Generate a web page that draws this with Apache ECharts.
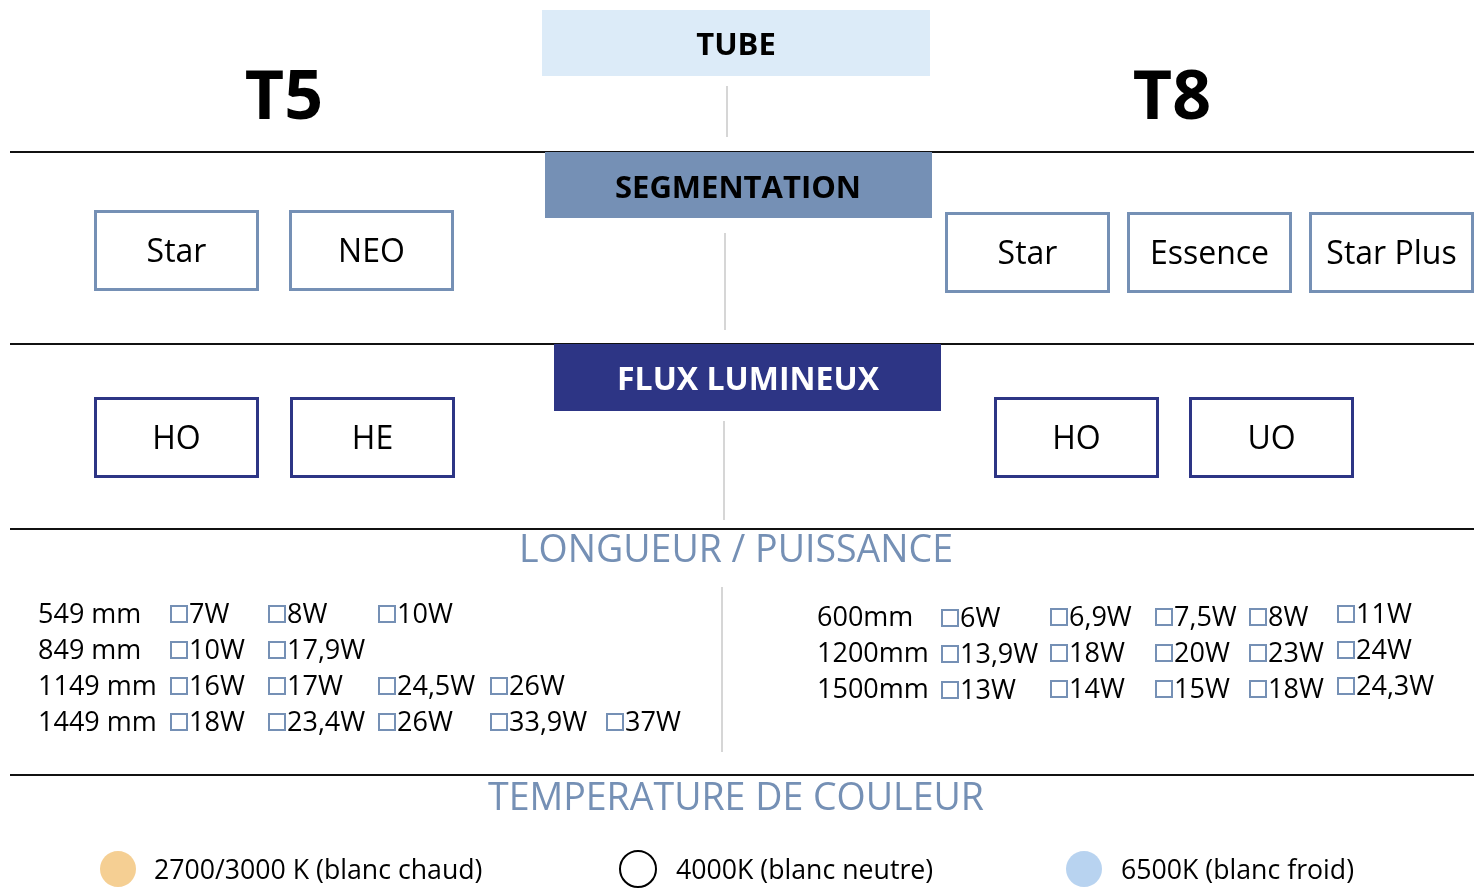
<!DOCTYPE html>
<html>
<head>
<meta charset="utf-8">
<script src="https://cdn.jsdelivr.net/npm/echarts@6/dist/echarts.min.js"></script>
<style>
  html, body { margin: 0; padding: 0; background: #fff; }
  #main { width: 1483px; height: 892px; }
</style>
</head>
<body>
<div id="main"></div>
<script>
// contenu
var tubeTypes = ['T5', 'T8'];
var sectionTitles = ['TUBE', 'SEGMENTATION', 'FLUX LUMINEUX'];
var segT5 = ['Star', 'NEO'];
var segT8 = ['Star', 'Essence', 'Star Plus'];
var fluxT5 = ['HO', 'HE'];
var fluxT8 = ['HO', 'UO'];
var t5Lengths = ['549 mm', '849 mm', '1149 mm', '1449 mm'];
var t5Watts = [
    ['7W', '8W', '10W'],
    ['10W', '17,9W'],
    ['16W', '17W', '24,5W', '26W'],
    ['18W', '23,4W', '26W', '33,9W', '37W']
];
var t8Lengths = ['600mm', '1200mm', '1500mm'];
var t8Watts = [
    ['6W', '6,9W', '7,5W', '8W', '11W'],
    ['13,9W', '18W', '20W', '23W', '24W'],
    ['13W', '14W', '15W', '18W', '24,3W']
];
var tempLabels = ['2700/3000 K (blanc chaud)', '4000K (blanc neutre)', '6500K (blanc froid)'];
var tempColors = ['#f5cf93', '#ffffff', '#b8d3f0'];

var FONT = '"Open Sans", "Noto Sans", sans-serif';
var steel = '#7590b5';
var navy = '#2d3585';

var myChart = echarts.init(document.getElementById('main'));
var els = [];

function text(x, y, s, size, opts) {
    opts = opts || {};
    els.push({
        type: 'text',
        style: {
            x: x, y: y + 2.5, text: s,
            font: (opts.weight || 'normal') + ' ' + size + 'px ' + FONT,
            fill: opts.color || '#000',
            align: opts.align || 'left',
            verticalAlign: 'middle'
        },
        z: 10
    });
}
function rect(x, y, w, h, fill, stroke, lw) {
    els.push({
        type: 'rect',
        shape: {x: x, y: y, width: w, height: h},
        style: {fill: fill || 'none', stroke: stroke || null, lineWidth: lw || 0},
        z: 5
    });
}
function line(x1, y1, x2, y2, color, lw) {
    els.push({
        type: 'line',
        shape: {x1: x1, y1: y1, x2: x2, y2: y2},
        style: {stroke: color, lineWidth: lw},
        z: 1
    });
}
function boxes(labels, xs, y, w, h, color) {
    labels.forEach(function (l, i) {
        rect(xs[i] + 1.5, y + 1.5, w - 3, h - 3, '#fff', color, 3);
        text(xs[i] + w / 2, y + h / 2, l, 32, {align: 'center'});
    });
}
function checks(lengths, watts, labelX, colX, rowY, colDy) {
    lengths.forEach(function (l, r) {
        text(labelX, rowY[r], l, 27);
        watts[r].forEach(function (w, c) {
            var dy = colDy ? colDy[c] : 0;
            rect(colX[c] + 1, rowY[r] - 7 + dy, 16, 16, '#fff', steel, 2);
            text(colX[c] + 19, rowY[r] + dy, w, 27);
        });
    });
}

// bandeaux
rect(542, 10, 388, 66, '#dcebf8');
text(736, 44, sectionTitles[0], 31, {weight: 'bold', align: 'center'});
rect(545, 152, 387, 66, steel);
text(738, 187, sectionTitles[1], 31, {weight: 'bold', align: 'center'});
rect(554, 344, 387, 67, navy);
text(748, 378, sectionTitles[2], 32, {weight: 'bold', align: 'center', color: '#fff'});

text(284, 97, tubeTypes[0], 68, {weight: 'bold', align: 'center'});
text(1172, 97, tubeTypes[1], 68, {weight: 'bold', align: 'center'});

// séparateurs
[152, 344, 529, 775].forEach(function (y) { line(10, y, 1474, y, '#111', 2); });
line(727, 86, 727, 137, '#d6d6d6', 2);
line(725, 233, 725, 330, '#d6d6d6', 2);
line(724, 421, 724, 520, '#d6d6d6', 2);
line(722, 587, 722, 752, '#d6d6d6', 2);

// segmentation
boxes(segT5, [94, 289], 210, 165, 81, steel);
boxes(segT8, [945, 1127, 1309], 212, 165, 81, steel);
// flux
boxes(fluxT5, [94, 290], 397, 165, 81, navy);
boxes(fluxT8, [994, 1189], 397, 165, 81, navy);

// longueur / puissance
text(736, 549, 'LONGUEUR / PUISSANCE', 37.5, {align: 'center', color: steel});
checks(t5Lengths, t5Watts, 38, [170, 268, 378, 490, 606], [613, 649, 685, 721]);
checks(t8Lengths, t8Watts, 817, [941, 1050, 1155, 1249, 1337], [616, 652, 688], [1, 0, 0, 0, -3]);

// température
text(736, 797, 'TEMPERATURE DE COULEUR', 37.5, {align: 'center', color: steel});
var tempCx = [118, 638, 1084];
var tempTx = [154, 676, 1121];
tempLabels.forEach(function (l, i) {
    els.push({
        type: 'ellipse',
        shape: {cx: tempCx[i], cy: 869, rx: 18, ry: 18},
        style: {fill: tempColors[i], stroke: i === 1 ? '#000' : null, lineWidth: i === 1 ? 2 : 0},
        z: 5
    });
    text(tempTx[i], 869, l, 26.7);
});

var option = {
    backgroundColor: '#fff',
    animation: false,
    graphic: {elements: els}
};
myChart.setOption(option);
</script>
</body>
</html>
